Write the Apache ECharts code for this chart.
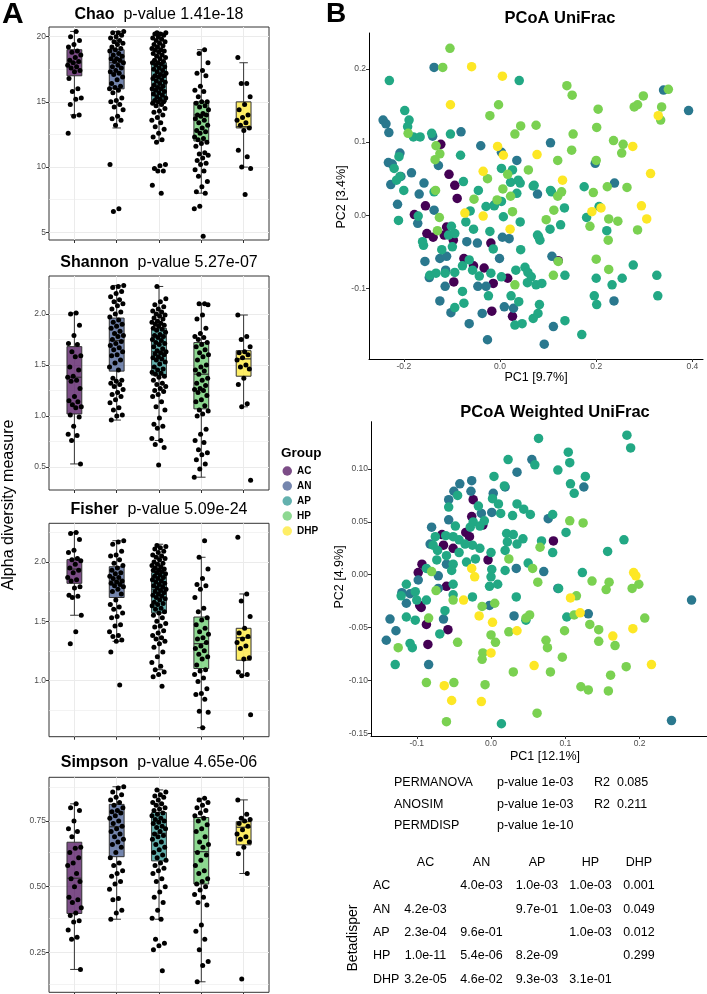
<!DOCTYPE html>
<html><head><meta charset="utf-8">
<script src="https://cdn.jsdelivr.net/npm/echarts@6/dist/echarts.min.js"></script>
<style>html,body{margin:0;padding:0;background:#fff}#c{width:707px;height:994px}</style>
</head><body><div id="c"></div>
<script>
// ---------- categories ----------
const groups = ['AC', 'AN', 'AP', 'HP', 'DHP'];

// ---------- alpha diversity: box stats [low, q1, median, q3, high] ----------
const chaoBox = [[14.0,17.0,18.0,19.0,20.4],[13.0,16.0,18.0,19.0,20.4],[12.0,15.0,17.0,18.0,20.3],[8.0,12.0,14.0,15.0,19.0],[10.0,13.0,13.1,15.0,18.0]];
const shannonBox = [[0.53,1.02,1.38,1.68,2.01],[0.96,1.44,1.74,1.96,2.28],[0.76,1.40,1.63,1.86,2.27],[0.40,1.07,1.41,1.72,2.10],[1.09,1.39,1.56,1.64,1.99]];
const fisherBox = [[1.55,1.82,1.94,2.02,2.25],[1.33,1.70,1.84,1.96,2.18],[1.09,1.57,1.77,1.91,2.15],[0.60,1.10,1.31,1.535,2.04],[1.04,1.17,1.36,1.44,1.73]];
const simpsonBox = [[0.185,0.398,0.532,0.669,0.815],[0.376,0.614,0.728,0.813,0.88],[0.376,0.598,0.703,0.782,0.868],[0.138,0.51,0.633,0.763,0.836],[0.55,0.659,0.726,0.747,0.83]];

// ---------- alpha diversity: sample values ----------
const chaoAC = [20.4,20.0,19.7,19.4,19.2,18.9,18.8,18.6,18.4,18.2,18.1,18.0,17.8,17.7,17.6,17.4,17.3,16.8,16.0,15.8,15.3,15.2,14.8,14.0,13.9,12.6];
const chaoAN = [20.4,20.3,20.3,20.1,20.0,19.9,19.7,19.6,19.5,19.4,19.2,19.1,19.0,18.9,18.7,18.6,18.5,18.3,18.3,18.2,18.1,18.0,17.8,17.7,17.6,17.4,17.3,17.2,17.1,16.9,16.7,16.4,16.2,16.1,16.0,15.9,15.7,15.3,15.1,15.0,14.8,14.6,14.4,13.9,13.7,13.6,13.2,10.2,6.8,6.6];
const chaoAP = [20.3,20.3,20.2,20.2,20.1,20.0,19.9,19.8,19.7,19.6,19.5,19.4,19.3,19.2,19.1,19.0,19.0,18.9,18.8,18.7,18.6,18.5,18.4,18.3,18.2,18.1,18.0,18.0,17.9,17.8,17.7,17.6,17.5,17.4,17.3,17.2,17.1,17.0,17.0,16.9,16.8,16.7,16.6,16.5,16.4,16.3,16.2,16.1,16.0,16.0,15.9,15.8,15.7,15.6,15.5,15.4,15.3,15.2,15.1,15.0,15.0,14.9,14.8,14.7,14.5,14.3,14.2,14.0,13.8,13.6,13.4,13.1,12.9,12.6,12.3,12.1,11.9,10.2,10.1,9.9,9.7,9.7,8.6,8.0];
const chaoHP = [19.0,18.7,18.0,17.4,17.2,17.0,16.2,15.9,15.8,15.4,15.0,15.0,14.9,14.7,14.6,14.4,14.1,14.0,14.0,13.9,13.7,13.6,13.4,13.2,13.0,12.8,12.7,12.6,12.3,12.2,12.1,11.9,11.8,11.6,11.1,11.0,10.9,10.7,10.5,10.3,10.2,9.8,9.7,9.3,8.9,8.5,8.1,8.0,7.0,6.8,4.7];
const chaoDHP = [18.4,16.4,16.4,15.4,14.8,14.4,14.0,13.8,13.6,13.4,13.2,13.0,12.8,11.3,10.8,10.0,9.9,7.9];

const shannonAC = [2.01,2.00,1.89,1.79,1.71,1.70,1.63,1.59,1.58,1.48,1.45,1.39,1.38,1.35,1.34,1.27,1.19,1.15,1.14,1.11,1.09,1.08,1.01,0.99,0.90,0.82,0.81,0.76,0.53];
const shannonAN = [2.28,2.27,2.26,2.22,2.20,2.17,2.14,2.12,2.10,2.08,2.05,2.02,2.00,1.97,1.94,1.92,1.90,1.88,1.86,1.83,1.81,1.79,1.78,1.75,1.73,1.71,1.69,1.67,1.65,1.63,1.60,1.59,1.55,1.52,1.48,1.45,1.37,1.35,1.34,1.32,1.31,1.29,1.26,1.23,1.21,1.19,1.16,1.13,1.08,1.06,1.01,1.00,0.96];
const shannonAP = [2.27,2.15,2.12,2.09,2.07,2.05,2.03,2.02,2.00,1.99,1.98,1.96,1.95,1.93,1.92,1.91,1.90,1.89,1.88,1.86,1.85,1.84,1.82,1.80,1.79,1.78,1.77,1.75,1.74,1.72,1.71,1.70,1.68,1.66,1.64,1.63,1.62,1.61,1.60,1.58,1.57,1.56,1.55,1.53,1.51,1.48,1.46,1.45,1.43,1.42,1.41,1.39,1.38,1.35,1.32,1.31,1.29,1.27,1.25,1.24,1.21,1.19,1.14,1.09,1.06,0.98,0.92,0.90,0.88,0.78,0.76,0.72,0.69,0.52];
const shannonHP = [2.10,2.10,2.09,1.99,1.95,1.86,1.81,1.78,1.77,1.75,1.72,1.70,1.68,1.65,1.62,1.60,1.58,1.55,1.50,1.48,1.45,1.44,1.41,1.37,1.35,1.32,1.30,1.27,1.26,1.25,1.23,1.20,1.16,1.14,1.10,1.06,1.05,1.02,1.00,0.87,0.82,0.76,0.74,0.67,0.64,0.62,0.57,0.53,0.48,0.40];
const shannonDHP = [1.99,1.78,1.75,1.68,1.63,1.62,1.60,1.57,1.55,1.50,1.48,1.46,1.37,1.31,1.12,1.09,0.37];

const fisherAC = [2.25,2.24,2.19,2.10,2.08,2.03,2.02,2.01,1.98,1.95,1.93,1.91,1.87,1.85,1.84,1.79,1.78,1.72,1.71,1.70,1.55,1.41,1.31];
const fisherAN = [2.18,2.17,2.15,2.09,2.06,2.05,2.02,1.99,1.97,1.95,1.93,1.91,1.90,1.88,1.87,1.86,1.84,1.83,1.82,1.81,1.80,1.79,1.77,1.75,1.73,1.68,1.64,1.62,1.60,1.57,1.54,1.53,1.47,1.46,1.41,1.38,1.37,1.34,1.33,1.24,0.96];
const fisherAP = [2.14,2.13,2.12,2.11,2.09,2.08,2.06,2.05,2.04,2.03,2.02,2.00,1.99,1.98,1.97,1.96,1.95,1.94,1.93,1.93,1.92,1.91,1.90,1.89,1.88,1.87,1.86,1.85,1.84,1.83,1.82,1.81,1.80,1.79,1.78,1.77,1.76,1.75,1.74,1.73,1.72,1.71,1.70,1.69,1.68,1.66,1.65,1.64,1.63,1.61,1.60,1.58,1.57,1.55,1.53,1.50,1.48,1.46,1.45,1.42,1.40,1.38,1.36,1.35,1.33,1.31,1.28,1.24,1.20,1.15,1.12,1.09,1.07,1.05,1.03,0.95];
const fisherHP = [2.18,2.04,1.94,1.86,1.81,1.80,1.77,1.70,1.61,1.58,1.53,1.51,1.47,1.44,1.41,1.39,1.36,1.35,1.32,1.29,1.27,1.25,1.22,1.20,1.18,1.13,1.09,1.08,1.05,1.02,0.99,0.93,0.89,0.88,0.84,0.74,0.73,0.60];
const fisherDHP = [2.21,1.73,1.67,1.54,1.44,1.40,1.37,1.35,1.32,1.29,1.27,1.19,1.18,1.07,1.05,1.04,0.71];

const simpsonAC = [0.815,0.80,0.79,0.75,0.72,0.71,0.69,0.65,0.646,0.63,0.61,0.59,0.58,0.55,0.53,0.52,0.50,0.46,0.45,0.44,0.42,0.40,0.39,0.37,0.365,0.335,0.307,0.30,0.185];
const simpsonAN = [0.88,0.875,0.86,0.85,0.84,0.83,0.82,0.81,0.80,0.79,0.785,0.78,0.77,0.76,0.75,0.74,0.73,0.72,0.71,0.70,0.69,0.68,0.67,0.66,0.65,0.63,0.61,0.59,0.58,0.56,0.55,0.54,0.52,0.51,0.49,0.455,0.45,0.41,0.40,0.376];
const simpsonAP = [0.868,0.86,0.85,0.845,0.84,0.83,0.82,0.815,0.81,0.80,0.795,0.79,0.78,0.775,0.77,0.76,0.755,0.75,0.745,0.74,0.73,0.725,0.72,0.71,0.70,0.695,0.69,0.68,0.67,0.66,0.65,0.64,0.63,0.62,0.61,0.60,0.59,0.58,0.57,0.56,0.55,0.53,0.52,0.50,0.48,0.46,0.44,0.41,0.38,0.376,0.30,0.285,0.275,0.26,0.18];
const simpsonHP = [0.836,0.83,0.82,0.81,0.80,0.79,0.78,0.77,0.76,0.75,0.735,0.72,0.71,0.69,0.67,0.66,0.65,0.63,0.62,0.60,0.58,0.56,0.55,0.53,0.52,0.51,0.50,0.487,0.47,0.46,0.44,0.43,0.354,0.33,0.30,0.26,0.215,0.20,0.138];
const simpsonDHP = [0.83,0.775,0.76,0.755,0.75,0.74,0.73,0.716,0.70,0.69,0.68,0.67,0.65,0.625,0.55,0.149];

// ---------- axis tick labels ----------
const chaoTicks = [5, 10, 15, 20];
const shannonTicks = [0.5, 1.0, 1.5, 2.0];
const fisherTicks = [1.0, 1.5, 2.0];
const simpsonTicks = [0.25, 0.50, 0.75];
const unifracXTicks = [-0.2, 0.0, 0.2, 0.4];
const unifracYTicks = [-0.1, 0.0, 0.1, 0.2];
const wunifracXTicks = [-0.1, 0.0, 0.1, 0.2];
const wunifracYTicks = [-0.15, -0.10, -0.05, 0.00, 0.05, 0.10];

// ---------- PCoA UniFrac [PC1, PC2] ----------
const uniAC = [[-0.123,0.097],[-0.106,0.056],[-0.094,0.041],[-0.089,0.023],[-0.178,0.001],[-0.155,0.013],[-0.152,-0.025],[-0.139,-0.030],[-0.097,-0.034],[-0.111,-0.016],[-0.075,-0.059],[-0.033,-0.072],[-0.019,-0.038],[-0.096,-0.091],[-0.014,-0.093],[0.016,-0.086],[-0.017,-0.131],[0.026,-0.138],[0.121,-0.062],[-0.116,-0.027],[-0.055,-0.069]];
const uniAN = [[-0.137,0.202],[-0.243,0.130],[-0.237,0.125],[-0.231,0.113],[-0.081,0.114],[-0.140,0.108],[-0.040,0.095],[0.105,0.099],[0.340,0.171],[0.392,0.143],[0.035,0.075],[0.238,0.044],[0.198,0.071],[0.003,0.086],[-0.232,0.072],[-0.208,0.085],[-0.227,0.042],[-0.184,0.058],[-0.158,0.044],[-0.128,0.068],[-0.168,0.029],[-0.213,0.015],[0.078,0.029],[0.108,-0.056],[-0.156,-0.063],[-0.114,-0.097],[-0.125,-0.117],[-0.102,-0.133],[-0.064,-0.148],[-0.037,-0.134],[-0.026,-0.170],[-0.001,-0.059],[0.005,-0.030],[0.019,-0.032],[0.009,-0.125],[0.028,-0.127],[0.092,-0.176],[0.111,-0.152],[0.237,-0.117],[-0.012,0.014],[-0.046,-0.097],[-0.029,-0.097],[-0.069,-0.036],[-0.047,-0.038],[-0.125,-0.059],[-0.111,-0.056],[-0.206,0.053],[-0.224,0.070],[-0.171,-0.011],[-0.137,0.007],[-0.113,-0.075],[-0.147,-0.085]];
const uniAP = [[-0.230,0.184],[0.040,0.184],[-0.198,0.143],[-0.189,0.130],[-0.192,0.121],[-0.180,0.107],[-0.166,0.107],[-0.142,0.112],[-0.103,0.111],[-0.082,0.082],[-0.210,0.080],[-0.220,0.064],[-0.208,0.053],[-0.215,0.048],[-0.200,0.034],[0.003,0.064],[0.026,0.062],[0.022,0.045],[0.038,0.048],[-0.076,0.046],[-0.045,0.034],[0.035,0.030],[0.071,0.041],[0.107,0.032],[0.175,0.039],[-0.029,0.012],[-0.012,0.013],[-0.062,0.006],[0.007,-0.002],[0.042,-0.009],[0.134,0.010],[0.180,-0.003],[0.222,-0.021],[0.206,0.012],[0.126,-0.013],[0.104,-0.019],[0.078,-0.027],[0.083,-0.034],[0.277,-0.068],[0.326,-0.082],[0.328,-0.110],[0.200,-0.086],[0.254,-0.086],[0.233,-0.095],[0.196,-0.110],[0.201,-0.122],[0.135,-0.082],[0.170,-0.163],[0.135,-0.144],[-0.211,-0.007],[-0.170,-0.001],[-0.137,0.032],[-0.071,-0.009],[-0.055,-0.019],[-0.021,-0.022],[0.043,-0.047],[0.003,0.019],[-0.101,-0.015],[-0.107,-0.027],[-0.094,-0.025],[-0.099,-0.043],[-0.121,-0.047],[-0.159,-0.041],[-0.161,-0.036],[-0.146,-0.082],[-0.133,-0.079],[-0.114,-0.079],[-0.094,-0.078],[-0.078,-0.069],[-0.064,-0.061],[-0.057,-0.075],[-0.043,-0.083],[-0.019,-0.079],[-0.014,-0.046],[0.003,-0.084],[0.023,-0.110],[0.039,-0.118],[-0.024,-0.110],[-0.078,-0.104],[-0.075,-0.120],[-0.094,-0.126],[0.033,-0.075],[0.052,-0.071],[0.058,-0.078],[0.065,-0.084],[0.057,-0.092],[0.075,-0.095],[0.087,-0.093],[0.082,-0.122],[0.079,-0.134],[0.069,-0.141],[0.031,-0.150],[0.046,-0.148],[0.080,-0.029],[0.042,0.044],[0.069,0.040],[0.105,0.034]];
const uniHP = [[-0.104,0.228],[-0.119,0.202],[0.139,0.177],[0.150,0.164],[0.298,0.163],[0.350,0.172],[0.336,0.148],[0.334,0.130],[0.279,0.148],[0.286,0.151],[-0.003,0.151],[-0.021,0.136],[0.043,0.122],[0.075,0.123],[0.031,0.111],[0.152,0.111],[0.204,0.145],[0.201,0.120],[0.236,0.102],[0.256,0.097],[0.253,0.085],[0.149,0.089],[0.120,0.075],[0.200,0.075],[0.059,0.062],[0.016,0.056],[-0.026,0.050],[0.006,0.036],[0.022,0.026],[-0.006,0.021],[-0.054,0.022],[0.120,0.026],[0.128,0.032],[0.194,0.031],[0.223,0.039],[0.264,0.038],[0.112,0.007],[0.026,0.005],[0.096,-0.006],[0.187,-0.015],[0.226,-0.005],[0.245,-0.008],[0.286,-0.020],[0.225,-0.034],[0.200,-0.060],[0.226,-0.074],[0.121,-0.063],[0.111,-0.082],[0.031,-0.095],[-0.133,0.095],[-0.125,0.084],[-0.135,0.076],[-0.191,0.112],[-0.134,0.034],[-0.126,-0.003],[-0.130,-0.021]];
const uniDHP = [[-0.059,0.203],[0.005,0.190],[-0.103,0.151],[0.329,0.136],[-0.005,0.094],[0.007,0.082],[0.077,0.083],[0.276,0.094],[-0.035,0.060],[0.130,0.048],[0.313,0.057],[0.294,0.013],[-0.073,0.003],[-0.035,-0.001],[0.191,0.005],[0.210,0.010],[0.305,-0.005],[0.021,-0.019]];

// ---------- PCoA Weighted UniFrac [PC1, PC2] ----------
const wuniAC = [[-0.024,0.071],[-0.026,0.055],[-0.011,0.047],[-0.066,0.038],[-0.034,0.040],[-0.029,0.036],[-0.051,0.025],[-0.064,0.028],[0.084,0.032],[-0.004,0.014],[-0.093,0.010],[-0.098,0.002],[-0.060,-0.011],[-0.094,-0.031],[-0.087,-0.047],[-0.058,-0.052],[-0.085,-0.066],[-0.096,-0.029]];
const wuniAN = [[0.055,0.109],[0.035,0.097],[-0.042,0.086],[-0.026,0.089],[-0.050,0.079],[-0.027,0.079],[-0.057,0.071],[0.003,0.077],[0.019,0.083],[-0.013,0.058],[-0.057,0.052],[-0.080,0.045],[0.001,0.059],[0.125,0.083],[0.077,0.053],[0.034,0.006],[0.071,0.003],[0.090,-0.013],[0.270,-0.024],[0.031,-0.039],[0.131,-0.037],[-0.002,-0.029],[-0.064,-0.042],[-0.071,-0.013],[-0.098,-0.005],[-0.109,-0.018],[-0.120,-0.017],[-0.136,-0.042],[-0.128,-0.053],[-0.141,-0.062],[-0.084,-0.085],[-0.071,-0.001],[-0.060,0.010],[-0.082,0.029],[-0.114,-0.027],[0.243,-0.138]];
const wuniAP = [[0.064,0.129],[0.023,0.109],[0.059,0.104],[0.104,0.116],[0.106,0.106],[0.090,0.099],[0.127,0.093],[0.107,0.086],[0.112,0.077],[0.183,0.132],[0.188,0.120],[0.004,0.093],[0.018,0.084],[0.002,0.072],[0.010,0.067],[0.035,0.067],[0.044,0.062],[0.053,0.057],[0.029,0.056],[0.013,0.058],[-0.017,0.065],[-0.045,0.075],[-0.057,0.064],[-0.048,0.046],[-0.028,0.045],[-0.024,0.050],[-0.015,0.046],[-0.009,0.051],[0.083,0.057],[0.101,0.040],[0.083,0.021],[0.068,0.032],[0.021,0.039],[0.030,0.038],[0.022,0.031],[0.043,0.034],[0.035,0.029],[0.019,0.023],[0.000,0.021],[-0.015,0.025],[-0.025,0.028],[-0.035,0.029],[-0.043,0.033],[-0.051,0.036],[-0.061,0.037],[-0.075,0.036],[-0.078,0.028],[-0.072,0.023],[-0.060,0.018],[-0.051,0.010],[-0.053,0.004],[-0.033,0.012],[-0.021,0.015],[0.001,0.005],[0.000,-0.002],[-0.002,-0.011],[0.009,-0.009],[0.019,0.004],[0.050,0.011],[0.123,0.002],[0.157,0.022],[0.179,0.033],[0.091,-0.013],[0.034,-0.021],[-0.025,-0.021],[-0.051,-0.019],[-0.062,-0.034],[-0.069,-0.056],[0.102,-0.040],[0.047,-0.043],[-0.114,-0.040],[-0.102,-0.043],[-0.109,-0.065],[-0.106,-0.069],[-0.129,-0.085],[0.014,-0.141],[-0.087,0.006],[-0.114,-0.009],[-0.102,-0.016],[-0.121,-0.020],[-0.100,-0.024],[-0.087,-0.024],[-0.051,-0.009],[-0.073,0.014],[-0.043,0.021]];
const wuniHP = [[0.106,0.051],[0.124,0.049],[0.066,0.026],[0.024,0.015],[-0.080,0.003],[0.056,0.006],[0.063,-0.007],[0.136,-0.006],[0.159,-0.007],[0.155,-0.014],[0.190,-0.013],[0.199,-0.009],[0.115,-0.020],[-0.074,-0.015],[-0.051,-0.024],[-0.012,-0.030],[0.005,-0.027],[0.047,-0.041],[0.052,-0.038],[0.112,-0.038],[0.133,-0.047],[0.145,-0.052],[0.099,-0.053],[0.207,-0.041],[0.024,-0.054],[0.000,-0.057],[0.006,-0.064],[0.074,-0.062],[0.076,-0.069],[0.145,-0.063],[0.167,-0.067],[0.096,-0.078],[-0.011,-0.074],[-0.012,-0.080],[-0.045,-0.064],[-0.084,-0.041],[-0.125,-0.069],[0.182,-0.087],[0.161,-0.095],[0.121,-0.106],[0.131,-0.109],[0.158,-0.110],[0.030,-0.092],[0.080,-0.092],[-0.008,-0.104],[-0.050,-0.102],[-0.087,-0.102],[-0.060,-0.139],[0.062,-0.131]];
const wuniDHP = [[-0.026,0.006],[-0.022,-0.002],[-0.037,-0.024],[-0.016,-0.039],[0.002,-0.045],[0.035,-0.053],[0.107,-0.022],[0.120,-0.036],[0.192,0.002],[0.195,-0.001],[0.191,-0.051],[0.164,-0.058],[0.000,-0.074],[0.058,-0.086],[0.216,-0.085],[-0.063,-0.105],[-0.053,-0.119],[-0.013,-0.120]];

// ---------- statistics text ----------
const statTests = ['PERMANOVA', 'ANOSIM', 'PERMDISP'];
const statP = ['p-value 1e-03', 'p-value 1e-03', 'p-value 1e-10'];
const statR2 = ['R2  0.085', 'R2  0.211', ''];
const betaRows = [
  ['', '4.0e-03', '1.0e-03', '1.0e-03', '0.001'],
  ['4.2e-03', '', '9.7e-01', '1.0e-03', '0.049'],
  ['2.3e-04', '9.6e-01', '', '1.0e-03', '0.012'],
  ['1.0e-11', '5.4e-06', '8.2e-09', '', '0.299'],
  ['3.2e-05', '4.6e-02', '9.3e-03', '3.1e-01', '']
];

// ---------- styling ----------
const FONT = "'Liberation Sans', Arial, Helvetica, sans-serif";
const boxFill = ['rgba(68,1,84,0.7)', 'rgba(59,82,139,0.7)', 'rgba(33,144,140,0.7)', 'rgba(93,200,99,0.7)', 'rgba(253,231,37,0.7)'];
const pcoaColor = ['#440154', '#2A788E', '#22A884', '#7AD151', '#FDE725'];
const GRIDC = '#EBEBEB';

const panels = [
  {title:'Chao', p:'p-value 1.41e-18', ty:15, top:27, h:213, min:4.41, max:20.74, ticks:chaoTicks, minor:[7.5,12.5,17.5], dec:0, box:chaoBox, pts:[chaoAC,chaoAN,chaoAP,chaoHP,chaoDHP]},
  {title:'Shannon', p:'p-value 5.27e-07', ty:263, top:276, h:214, min:0.2745, max:2.3725, ticks:shannonTicks, minor:[0.75,1.25,1.75,2.25], dec:1, box:shannonBox, pts:[shannonAC,shannonAN,shannonAP,shannonHP,shannonDHP]},
  {title:'Fisher', p:'p-value 5.09e-24', ty:510, top:523.3, h:213.4, min:0.524, max:2.327, ticks:fisherTicks, minor:[0.75,1.25,1.75,2.25], dec:1, box:fisherBox, pts:[fisherAC,fisherAN,fisherAP,fisherHP,fisherDHP]},
  {title:'Simpson', p:'p-value 4.65e-06', ty:763, top:777.3, h:215, min:0.098, max:0.916, ticks:simpsonTicks, minor:[0.125,0.375,0.625,0.875], dec:2, box:simpsonBox, pts:[simpsonAC,simpsonAN,simpsonAP,simpsonHP,simpsonDHP]}
];

const grid = [], xAxis = [], yAxis = [], series = [];
const catIdx = [1, 2, 3, 4, 5];
const jit = (i, g) => ((((i + 1) * 0.6180339887 + g * 0.37) % 1) - 0.5) * 0.34;

panels.forEach((p, k) => {
  grid.push({left:49, top:p.top, width:220, height:p.h, show:true, borderColor:'#333333', borderWidth:1, backgroundColor:'transparent'});
  xAxis.push({gridIndex:k, type:'value', min:0.4, max:5.6, position:'bottom',
    axisLine:{show:false, onZero:false},
    axisTick:{show:true, customValues:catIdx, length:3, lineStyle:{color:'#333', width:1}},
    axisLabel:{show:false, customValues:catIdx},
    splitLine:{show:true, lineStyle:{color:GRIDC, width:1}}});
  yAxis.push({gridIndex:k, type:'value', min:p.min, max:p.max,
    axisLine:{show:false, onZero:false},
    axisTick:{show:true, customValues:p.ticks, length:3, lineStyle:{color:'#333', width:1}},
    axisLabel:{customValues:p.ticks, formatter:v => v.toFixed(p.dec), fontSize:8.5, color:'#4D4D4D', fontFamily:FONT, margin:3},
    splitLine:{show:true, lineStyle:{color:GRIDC, width:1}}});
  series.push({
    type:'custom', xAxisIndex:k, yAxisIndex:k, z:2, silent:true,
    data: p.box.map((s, g) => [g + 1].concat(s)),
    encode:{x:0, y:[1,2,3,4,5]},
    renderItem: function (params, api) {
      const x = api.value(0);
      const lo = api.coord([x, api.value(1)]), q1 = api.coord([x, api.value(2)]), md = api.coord([x, api.value(3)]);
      const q3 = api.coord([x, api.value(4)]), hi = api.coord([x, api.value(5)]);
      const hb = api.size([0.175, 0])[0], hc = api.size([0.1, 0])[0];
      const cx = lo[0];
      const ls = {stroke:'#333333', lineWidth:1};
      return {type:'group', children:[
        {type:'line', shape:{x1:cx, y1:lo[1], x2:cx, y2:q1[1]}, style:ls},
        {type:'line', shape:{x1:cx, y1:q3[1], x2:cx, y2:hi[1]}, style:ls},
        {type:'line', shape:{x1:cx-hc, y1:lo[1], x2:cx+hc, y2:lo[1]}, style:ls},
        {type:'line', shape:{x1:cx-hc, y1:hi[1], x2:cx+hc, y2:hi[1]}, style:ls},
        {type:'rect', shape:{x:cx-hb, y:q3[1], width:2*hb, height:q1[1]-q3[1]}, style:{fill:boxFill[params.dataIndex], stroke:'#333333', lineWidth:1}},
        {type:'line', shape:{x1:cx-hb, y1:md[1], x2:cx+hb, y2:md[1]}, style:{stroke:'#333333', lineWidth:1.2}}
      ]};
    }
  });
  const pts = [];
  p.pts.forEach((arr, g) => arr.forEach((v, i) => pts.push([g + 1 + jit(i, g), v])));
  series.push({
    type:'scatter', xAxisIndex:k, yAxisIndex:k, z:3, silent:true, symbolSize:5,
    itemStyle:{color:'#000', opacity:1}, data:pts,
    markLine:{z:1, silent:true, symbol:'none', animation:false, label:{show:false},
      lineStyle:{color:GRIDC, width:0.6, type:'solid'},
      data:p.minor.map(v => ({yAxis:v}))}
  });
});

// PCoA grids
const pcoa = [
  {top:33, left:369, width:334, height:326, xmin:-0.2723, xmax:0.422, ymin:-0.1963, ymax:0.249, xt:unifracXTicks, yt:unifracYTicks, xd:1, yd:1, sets:[uniAC,uniAN,uniAP,uniHP,uniDHP]},
  {top:421.7, left:371, width:336, height:314.3, xmin:-0.1616, xmax:0.2908, ymin:-0.1526, ymax:0.1448, xt:wunifracXTicks, yt:wunifracYTicks, xd:1, yd:2, sets:[wuniAC,wuniAN,wuniAP,wuniHP,wuniDHP]}
];
pcoa.forEach((q, j) => {
  const k = 4 + j;
  grid.push({left:q.left, top:q.top, width:q.width, height:q.height});
  xAxis.push({gridIndex:k, type:'value', min:q.xmin, max:q.xmax, position:'bottom',
    axisLine:{show:true, onZero:false, lineStyle:{color:'#000', width:1}},
    axisTick:{show:true, customValues:q.xt, length:3, lineStyle:{color:'#333', width:1}},
    axisLabel:{customValues:q.xt, formatter:v => v.toFixed(q.xd), fontSize:8.5, color:'#4D4D4D', fontFamily:FONT, margin:3},
    splitLine:{show:false}});
  yAxis.push({gridIndex:k, type:'value', min:q.ymin, max:q.ymax, position:'left',
    axisLine:{show:true, onZero:false, lineStyle:{color:'#000', width:1}},
    axisTick:{show:true, customValues:q.yt, length:3, lineStyle:{color:'#333', width:1}},
    axisLabel:{customValues:q.yt, formatter:v => v.toFixed(q.yd), fontSize:8.5, color:'#4D4D4D', fontFamily:FONT, margin:3},
    splitLine:{show:false}});
  q.sets.forEach((d, g) => {
    series.push({name:groups[g], type:'scatter', xAxisIndex:k, yAxisIndex:k, z:3, silent:true,
      symbolSize:9.5, itemStyle:{color:pcoaColor[g], opacity:1}, data:d});
  });
});

// text helpers
function T(x, y, text, size, weight, align, rot) {
  return {type:'text', x:x, y:y, rotation:rot || 0, silent:true, z:10,
    style:{text:text, fill:'#000', font:(weight || 'normal') + ' ' + size + 'px ' + FONT, align:align || 'left', verticalAlign:'middle'}};
}
const graphic = [];
graphic.push(T(2, 15, 'A', 30, 'bold', 'left'));
graphic.push(T(336, 14, 'B', 28, 'bold', 'center'));
panels.forEach(p => {
  graphic.push({type:'text', x:159, y:p.ty, silent:true, z:10, style:{
    text:'{a|' + p.title + '}{b|  ' + p.p + '}', align:'center', verticalAlign:'middle',
    rich:{a:{font:'bold 16px ' + FONT, fill:'#000'}, b:{font:'16px ' + FONT, fill:'#000'}}}});
});
graphic.push(T(9, 505, 'Alpha diversity measure', 16, 'normal', 'center', Math.PI / 2));
graphic.push(T(281, 453, 'Group', 13.5, 'bold', 'left'));
graphic.push(T(560, 18, 'PCoA UniFrac', 16.5, 'bold', 'center'));
graphic.push(T(555, 412, 'PCoA Weighted UniFrac', 16.5, 'bold', 'center'));
graphic.push(T(536, 378, 'PC1 [9.7%]', 12.5, 'normal', 'center'));
graphic.push(T(342, 197, 'PC2 [3.4%]', 12.5, 'normal', 'center', Math.PI / 2));
graphic.push(T(545, 757, 'PC1 [12.1%]', 12.5, 'normal', 'center'));
graphic.push(T(340, 577, 'PC2 [4.9%]', 12.5, 'normal', 'center', Math.PI / 2));
const statY = [783, 805, 826];
statTests.forEach((s, i) => {
  graphic.push(T(394, statY[i], s, 12.5, 'normal', 'left'));
  graphic.push(T(497, statY[i], statP[i], 12.5, 'normal', 'left'));
  if (statR2[i]) graphic.push(T(594, statY[i], statR2[i], 12.5, 'normal', 'left'));
});
const colX = [425.5, 481.5, 537, 590.5, 639];
const rowY = [885.7, 909.3, 932.3, 956, 979.3];
groups.forEach((g, c) => graphic.push(T(colX[c], 862.3, g, 12.5, 'normal', 'center')));
betaRows.forEach((row, r) => {
  graphic.push(T(373, rowY[r], groups[r], 12.5, 'normal', 'left'));
  row.forEach((cell, c) => { if (cell) graphic.push(T(colX[c], rowY[r], cell, 12.5, 'normal', 'center')); });
});
graphic.push(T(353, 938, 'Betadisper', 14, 'normal', 'center', Math.PI / 2));

const chart = echarts.init(document.getElementById('c'), null, {renderer:'canvas'});
chart.setOption({
  animation:false,
  backgroundColor:'#ffffff',
  textStyle:{fontFamily:FONT},
  grid:grid, xAxis:xAxis, yAxis:yAxis, series:series,
  legend:{show:true, orient:'vertical', left:282.5, top:466, padding:0, itemWidth:9.5, itemHeight:9.5, itemGap:5,
    selectedMode:false, icon:'circle',
    textStyle:{fontSize:10, fontWeight:'bold', color:'#000', fontFamily:FONT, lineHeight:10},
    data:groups.map((g, i) => ({name:g, icon:'circle', itemStyle:{color:boxFill[i]}}))},
  graphic:graphic
});
</script>
</body></html>
